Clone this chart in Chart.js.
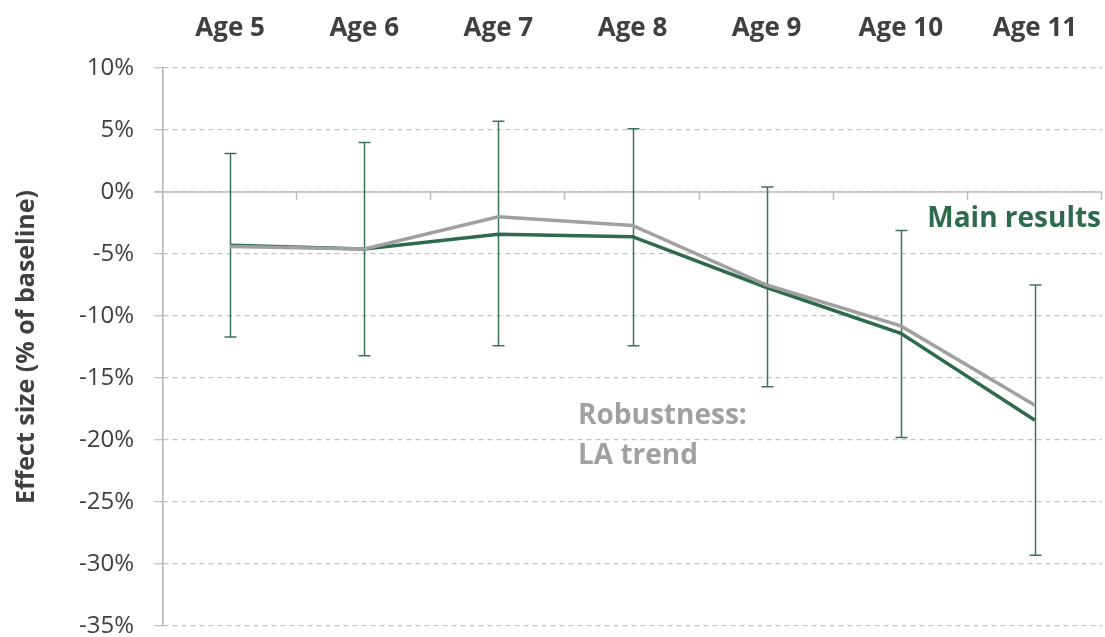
<!DOCTYPE html>
<html>
<head>
<meta charset="utf-8">
<script src="https://cdn.jsdelivr.net/npm/chart.js@4/dist/chart.umd.min.js"></script>
<style>
  html, body { margin: 0; padding: 0; background: #fff; }
  #wrap { width: 1105px; height: 637px; }
</style>
</head>
<body>
<div id="wrap"><canvas id="effectChart"></canvas></div>
<script>
// data
var ages = ["Age 5", "Age 6", "Age 7", "Age 8", "Age 9", "Age 10", "Age 11"];
var mainResults = [-4.3, -4.6, -3.4, -3.6, -7.7, -11.4, -18.4];
var robustness = [-4.4, -4.6, -2.0, -2.7, -7.5, -10.8, -17.2];
var errLow = [-11.7, -13.2, -12.4, -12.4, -15.7, -19.8, -29.3];
var errHigh = [3.1, 4.0, 5.7, 5.1, 0.4, -3.1, -7.5];
var yTicks = [10, 5, 0, -5, -10, -15, -20, -25, -30, -35];

var green = '#2e6a4e';
var grey = '#a0a0a0';
var textCol = '#404040';
var fontFam = '"Open Sans", "Noto Sans", sans-serif';

// zero line, category ticks and error bars (under the lines)
var underPlugin = {
  id: 'under',
  beforeDatasetsDraw: function (chart) {
    var ctx = chart.ctx, x = chart.scales.x, y = chart.scales.y;
    var area = chart.chartArea;
    var y0 = y.getPixelForValue(0);
    ctx.save();
    ctx.strokeStyle = '#bdbdbd';
    ctx.lineWidth = 1.5;
    ctx.beginPath();
    ctx.moveTo(area.left - 9, y0);
    ctx.lineTo(area.right, y0);
    var step = (area.right - area.left) / ages.length;
    for (var i = 1; i <= ages.length; i++) {
      var tx = Math.round(area.left + step * i) - 0.5;
      ctx.moveTo(tx, y0);
      ctx.lineTo(tx, y0 + 8);
    }
    ctx.stroke();

    ctx.strokeStyle = '#3c7459';
    ctx.lineWidth = 1.5;
    ctx.beginPath();
    for (var j = 0; j < ages.length; j++) {
      var px = Math.round(x.getPixelForValue(j)) + 0.5;
      var hi = y.getPixelForValue(errHigh[j]);
      var lo = y.getPixelForValue(errLow[j]);
      ctx.moveTo(px, hi);
      ctx.lineTo(px, lo);
      ctx.moveTo(px - 6, hi);
      ctx.lineTo(px + 6, hi);
      ctx.moveTo(px - 6, lo);
      ctx.lineTo(px + 6, lo);
    }
    ctx.stroke();
    ctx.restore();
  },
  afterDatasetsDraw: function (chart) {
    var ctx = chart.ctx;
    ctx.save();
    ctx.font = 'bold 28px ' + fontFam;
    ctx.textBaseline = 'middle';
    ctx.fillStyle = green;
    ctx.textAlign = 'right';
    ctx.fillText('Main results', 1101, 219);
    ctx.fillStyle = grey;
    ctx.textAlign = 'left';
    ctx.fillText('Robustness:', 578, 416);
    ctx.fillText('LA trend', 578, 456);
    ctx.restore();
  }
};

var chart = new Chart(document.getElementById('effectChart'), {
  type: 'line',
  data: {
    labels: ages,
    datasets: [{
      label: 'Robustness: LA trend',
      data: robustness,
      borderColor: grey,
      borderWidth: 3.5,
      pointRadius: 0,
      tension: 0,
      fill: false
    }, {
      label: 'Main results',
      data: mainResults,
      borderColor: green,
      borderWidth: 3.5,
      pointRadius: 0,
      tension: 0,
      fill: false
    }]
  },
  options: {
    responsive: true,
    maintainAspectRatio: false,
    animation: false,
    layout: { padding: { top: 0, right: 3, bottom: 11, left: 0 } },
    plugins: {
      legend: { display: false },
      tooltip: { enabled: false }
    },
    scales: {
      x: {
        position: 'top',
        offset: true,
        grid: { display: false, drawTicks: false },
        border: { display: false },
        ticks: {
          color: textCol,
          padding: 24,
          font: { family: fontFam, size: 26, weight: 'bold' }
        },
        afterFit: function (scale) { scale.height = 68; }
      },
      y: {
        min: -35,
        max: 10,
        afterBuildTicks: function (scale) {
          scale.ticks = yTicks.map(function (v) { return { value: v }; });
        },
        grid: {
          color: '#c4c4c4',
          lineWidth: 1.3,
          tickLength: 9,
          tickColor: '#c4c4c4'
        },
        border: { display: true, color: '#b0b0b0', width: 1.5, dash: [5, 4] },
        ticks: {
          color: textCol,
          padding: 20,
          font: { family: fontFam, size: 24 },
          callback: function (v) { return v + '%'; }
        },
        title: {
          display: true,
          text: 'Effect size (% of baseline)',
          color: textCol,
          padding: { top: 12, bottom: 0 },
          font: { family: fontFam, size: 25, weight: 'bold' }
        },
        afterFit: function (scale) {
          scale.width = 163;
          scale.paddingTop = 0;
          scale.paddingBottom = 0;
        }
      }
    }
  },
  plugins: [underPlugin]
});
</script>
</body>
</html>
